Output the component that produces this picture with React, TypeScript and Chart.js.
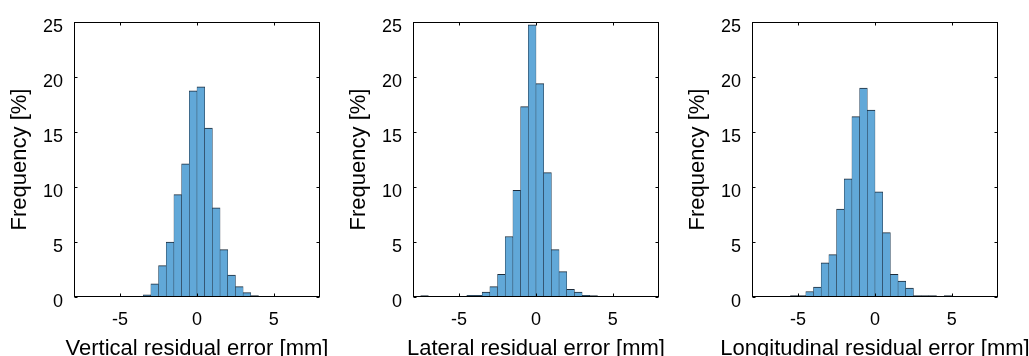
import React, { useEffect, useRef } from "react";
import { Chart, registerables } from "chart.js";

Chart.register(...registerables);

// ---- data (bin centres in mm, frequency in %) ----
const xTickValues = [-5, 0, 5];
const yTickValues = [0, 5, 10, 15, 20, 25];

const verticalCenters = [-3.25, -2.75, -2.25, -1.75, -1.25, -0.75, -0.25, 0.25, 0.75, 1.25, 1.75, 2.25, 2.75, 3.25, 3.75];
const verticalFreq = [0.2, 1.2, 2.85, 5.0, 9.3, 12.1, 18.75, 19.1, 15.35, 8.1, 4.3, 2.0, 0.95, 0.4, 0.05];

const lateralCenters = [-7.25, -4.25, -3.75, -3.25, -2.75, -2.25, -1.75, -1.25, -0.75, -0.25, 0.25, 0.75, 1.25, 1.75, 2.25, 2.75, 3.25, 3.75];
const lateralFreq = [0.06, 0.15, 0.15, 0.45, 0.95, 2.05, 5.5, 9.7, 17.3, 24.75, 19.4, 11.3, 4.3, 2.3, 0.7, 0.45, 0.15, 0.05];

const longitudinalCenters = [-5.25, -4.75, -4.25, -3.75, -3.25, -2.75, -2.25, -1.75, -1.25, -0.75, -0.25, 0.25, 0.75, 1.25, 1.75, 2.25, 2.75, 3.25, 3.75, 4.75];
const longitudinalFreq = [0.05, 0.05, 0.5, 0.9, 3.1, 3.85, 8.0, 10.75, 16.4, 19.0, 17.0, 9.55, 5.85, 2.05, 1.45, 0.8, 0.05, 0.05, 0.05, 0.08];

const titles = ["Vertical residual error [mm]", "Lateral residual error [mm]", "Longitudinal residual error [mm]"];
const yTitle = "Frequency [%]";

const FONT = "'Liberation Sans', Arial, Helvetica, sans-serif";
const BAR_FILL = "#61a8d8";
const BAR_EDGE = "#1c2b3a";

const CANVAS_H = 370;

const boxPlugin = {
  id: "boxTicks",
  afterDatasetsDraw(chart: any) {
    const { ctx, chartArea: a, scales } = chart;
    ctx.save();
    ctx.strokeStyle = "#000";
    ctx.lineWidth = 1;
    const L = Math.round(a.left) + 0.5;
    const R = Math.round(a.right) - 0.5;
    const T = Math.round(a.top) + 0.5;
    const B = Math.round(a.bottom) - 0.5;
    ctx.strokeRect(L, T, R - L, B - T);
    ctx.beginPath();
    for (const v of xTickValues) {
      const px = Math.round(scales.x.getPixelForValue(v)) + 0.5;
      ctx.moveTo(px, T);
      ctx.lineTo(px, T + 3);
      ctx.moveTo(px, B);
      ctx.lineTo(px, B - 3);
    }
    for (const v of yTickValues) {
      const py = Math.round(scales.y.getPixelForValue(v)) + 0.5;
      ctx.moveTo(L, py);
      ctx.lineTo(L + 3, py);
      ctx.moveTo(R, py);
      ctx.lineTo(R - 3, py);
    }
    ctx.stroke();
    // x-axis title, drawn without width limit
    const t = chart.options.plugins.boxTicks?.xTitle;
    if (t) {
      ctx.fillStyle = "#000";
      ctx.font = `22px ${FONT}`;
      ctx.textAlign = "center";
      ctx.textBaseline = "middle";
      ctx.fillText(t, (a.left + a.right) / 2, 348.5);
    }
    ctx.restore();
  },
};

function Panel({
  centers,
  values,
  title,
  left,
  width,
}: {
  centers: number[];
  values: number[];
  title: string;
  left: number;
  width: number;
}) {
  const ref = useRef<HTMLCanvasElement | null>(null);
  useEffect(() => {
    if (!ref.current) return;
    const data = centers.map((c, i) => ({ x: c, y: values[i] }));
    const chart = new Chart(ref.current, {
      type: "bar",
      data: {
        datasets: [
          {
            data: data as any,
            backgroundColor: BAR_FILL,
            borderColor: BAR_EDGE,
            borderWidth: { left: 0.5, right: 0.5, top: 1, bottom: 0 } as any,
            borderSkipped: false as any,
            minBarLength: 1.5,
            barPercentage: 1,
            categoryPercentage: 1,
          },
        ],
      },
      options: {
        responsive: false,
        animation: false,
        devicePixelRatio: 1,
        layout: { padding: { left: 0, top: 22, right: width - 320, bottom: 0 } },
        plugins: {
          legend: { display: false },
          tooltip: { enabled: false },
          title: { display: false },
          boxTicks: { xTitle: title },
        } as any,
        scales: {
          x: {
            type: "linear",
            min: -8,
            max: 8,
            offset: false,
            grid: { display: false, drawTicks: false },
            border: { display: false },
            afterBuildTicks: (s: any) => {
              s.ticks = xTickValues.map((v) => ({ value: v }));
            },
            afterFit: (s: any) => {
              s.height = CANVAS_H - 297;
            },
            ticks: {
              color: "#000",
              padding: 12,
              maxRotation: 0,
              autoSkip: false,
              font: { family: FONT, size: 18 },
              callback: (v: any) => String(v),
            },
            title: { display: false },
          },
          y: {
            min: 0,
            max: 25,
            grid: { display: false, drawTicks: false },
            border: { display: false },
            afterBuildTicks: (s: any) => {
              s.ticks = yTickValues.map((v) => ({ value: v }));
            },
            afterFit: (s: any) => {
              s.width = 74;
            },
            ticks: {
              color: "#000",
              padding: 11,
              labelOffset: 5,
              font: { family: FONT, size: 18 },
              callback: (v: any) => String(v),
            },
            title: {
              display: true,
              text: yTitle,
              color: "#000",
              font: { family: FONT, size: 22 },
              padding: { top: 7, bottom: 0 },
            },
          },
        },
      },
      plugins: [boxPlugin],
    });
    return () => chart.destroy();
  }, [centers, values, title, width]);
  return (
    <canvas
      ref={ref}
      width={width}
      height={CANVAS_H}
      style={{ position: "absolute", left, top: 0, width, height: CANVAS_H }}
    />
  );
}

export default function App() {
  return (
    <div
      style={{
        position: "fixed",
        left: 0,
        top: 0,
        width: 1029,
        height: 356,
        overflow: "hidden",
        background: "#fff",
      }}
    >
      <Panel centers={verticalCenters} values={verticalFreq} title={titles[0]} left={0} width={339} />
      <Panel centers={lateralCenters} values={lateralFreq} title={titles[1]} left={339} width={339} />
      <Panel centers={longitudinalCenters} values={longitudinalFreq} title={titles[2]} left={678} width={351} />
    </div>
  );
}
